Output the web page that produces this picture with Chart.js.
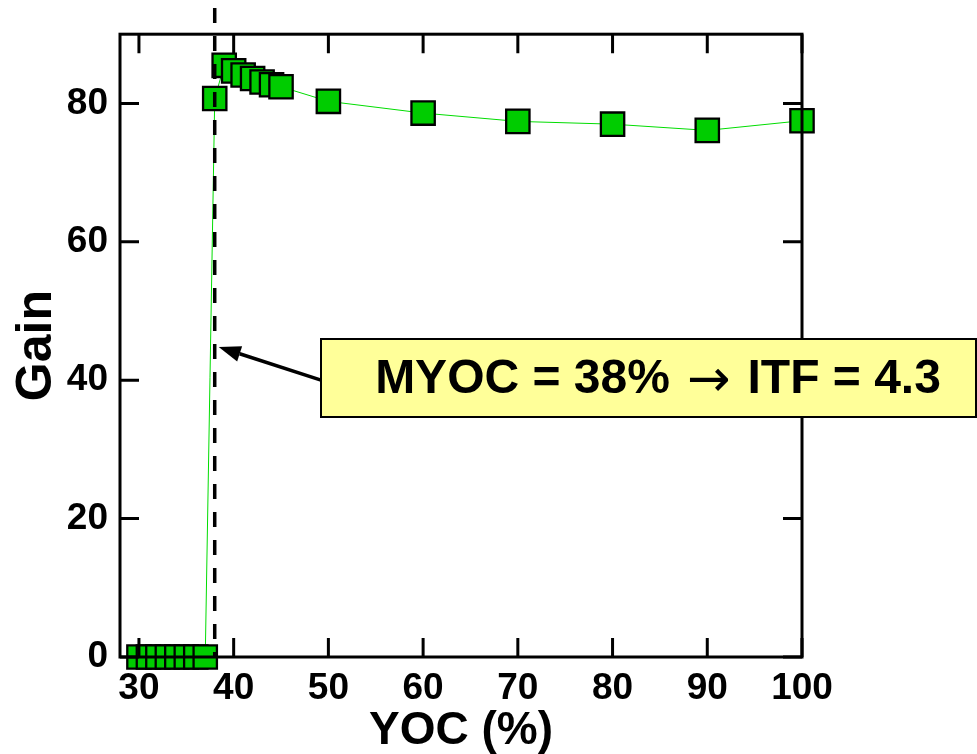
<!DOCTYPE html>
<html>
<head>
<meta charset="utf-8">
<script src="https://cdn.jsdelivr.net/npm/chart.js@4"></script>
<style>
  html, body { margin: 0; padding: 0; background: #fff; }
</style>
</head>
<body>
<canvas id="gainChart" width="977" height="754"></canvas>
<script>
// YOC (%) against gain
const yoc  = [30, 31, 32, 33, 34, 35, 36, 37, 38, 39, 40, 41, 42, 43, 44, 45, 50, 60, 70, 80, 90, 100];
const gain = [0, 0, 0, 0, 0, 0, 0, 0, 80.7, 85.5, 84.7, 84.1, 83.6, 83.1, 82.7, 82.4, 80.3, 78.6, 77.4, 77.0, 76.1, 77.5];

const xTicks = [30, 40, 50, 60, 70, 80, 90, 100];
const yTicks = [0, 20, 40, 60, 80];

const myoc = 38;
const itf = 4.3;

const FONT = "'Liberation Sans', Arial, sans-serif";

// box frame, inward tick marks, dashed MYOC line and the callout
const framePlugin = {
    id: 'frame',
    afterDatasetsDraw(chart) {
        const ctx = chart.ctx;
        const a = chart.chartArea;
        const x = chart.scales.x, y = chart.scales.y;
        const len = 19;

        ctx.save();
        ctx.strokeStyle = '#000';
        ctx.lineWidth = 3;
        ctx.strokeRect(a.left, a.top, a.right - a.left, a.bottom - a.top);

        ctx.beginPath();
        xTicks.forEach(v => {
            const px = x.getPixelForValue(v);
            ctx.moveTo(px, a.top);
            ctx.lineTo(px, a.top + len);
            ctx.moveTo(px, a.bottom);
            ctx.lineTo(px, a.bottom - len);
        });
        yTicks.forEach(v => {
            const py = y.getPixelForValue(v);
            ctx.moveTo(a.left, py);
            ctx.lineTo(a.left + len, py);
            ctx.moveTo(a.right, py);
            ctx.lineTo(a.right - len, py);
        });
        ctx.stroke();

        // dashed line at MYOC
        const mx = x.getPixelForValue(myoc);
        ctx.setLineDash([15, 13]);
        ctx.lineWidth = 3.5;
        ctx.beginPath();
        ctx.moveTo(mx, 8);
        ctx.lineTo(mx, a.bottom);
        ctx.stroke();
        ctx.setLineDash([]);

        // callout box
        const bx = 321, by = 339, bw = 655, bh = 78;
        ctx.fillStyle = '#ffff99';
        ctx.fillRect(bx, by, bw, bh);
        ctx.lineWidth = 2;
        ctx.strokeRect(bx, by, bw, bh);

        // text in three parts so the arrow glyph can be larger
        const left = 'MYOC = ' + myoc + '%';
        const right = 'ITF = ' + itf;
        const boldFont = 'bold 48px ' + FONT;
        const arrowFont = '52px "DejaVu Sans", sans-serif';
        const gap = 17;
        ctx.font = boldFont;
        const wl = ctx.measureText(left).width;
        const wr = ctx.measureText(right).width;
        ctx.font = arrowFont;
        const wa = ctx.measureText('\u2192').width;
        const total = wl + gap + wa + gap + wr;
        let tx = 658 - total / 2;
        const ty = by + bh / 2 + 2;

        ctx.fillStyle = '#000';
        ctx.textAlign = 'left';
        ctx.textBaseline = 'middle';
        ctx.font = boldFont;
        ctx.fillText(left, tx, ty);
        tx += wl + gap;
        ctx.font = arrowFont;
        ctx.fillText('\u2192', tx, ty + 2);
        tx += wa + gap;
        ctx.font = boldFont;
        ctx.fillText(right, tx, ty);

        // arrow from the box to the dashed line
        const tipX = mx + 4, tipY = y.getPixelForValue(44.8);
        const tailX = bx, tailY = y.getPixelForValue(40);
        const ang = Math.atan2(tipY - tailY, tipX - tailX);
        const head = 22, half = 8;
        const baseX = tipX - head * Math.cos(ang), baseY = tipY - head * Math.sin(ang);
        ctx.lineWidth = 3.5;
        ctx.beginPath();
        ctx.moveTo(tailX, tailY);
        ctx.lineTo(baseX, baseY);
        ctx.stroke();
        ctx.beginPath();
        ctx.moveTo(tipX, tipY);
        ctx.lineTo(baseX + half * Math.sin(ang), baseY - half * Math.cos(ang));
        ctx.lineTo(baseX - half * Math.sin(ang), baseY + half * Math.cos(ang));
        ctx.closePath();
        ctx.fill();
        ctx.restore();
    }
};

const tickFont = {family: FONT, size: 37, weight: 'bold'};

let contextGain = document.getElementById('gainChart').getContext('2d');

new Chart(contextGain, {
    type: 'line',
    data: {
        datasets: [{
            data: yoc.map((v, i) => ({x: v, y: gain[i]})),
            borderColor: '#00dd00',
            borderWidth: 1,
            backgroundColor: '#00cc00',
            pointStyle: 'rect',
            pointRadius: 16.5,
            pointBorderColor: '#000',
            pointBorderWidth: 2.3,
            pointBackgroundColor: '#00cc00',
            tension: 0,
            clip: false
        }]
    },
    options: {
        responsive: false,
        animation: false,
        layout: {padding: {top: 34, right: 175, left: 0, bottom: 0}},
        plugins: {
            legend: {display: false},
            tooltip: {enabled: false}
        },
        scales: {
            x: {
                type: 'linear',
                min: 28,
                max: 100,
                afterBuildTicks: s => { s.ticks = xTicks.map(v => ({value: v})); },
                afterFit: s => { s.height = 97; },
                grid: {display: false, drawTicks: false},
                border: {display: false},
                ticks: {color: '#000', font: tickFont, padding: 10, maxRotation: 0},
                title: {
                    display: true, text: 'YOC (%)', color: '#000',
                    font: {family: FONT, size: 46, weight: 'bold', lineHeight: 1.0},
                    padding: 0
                }
            },
            y: {
                type: 'linear',
                min: 0,
                max: 90,
                afterBuildTicks: s => { s.ticks = yTicks.map(v => ({value: v})); },
                afterFit: s => { s.width = 120; },
                grid: {display: false, drawTicks: false},
                border: {display: false},
                ticks: {color: '#000', font: tickFont, padding: 12},
                title: {
                    display: true, text: 'Gain', color: '#000',
                    font: {family: FONT, size: 50, weight: 'bold'},
                    padding: {top: 7, bottom: 0}
                }
            }
        }
    },
    plugins: [framePlugin]
});
</script>
</body>
</html>
